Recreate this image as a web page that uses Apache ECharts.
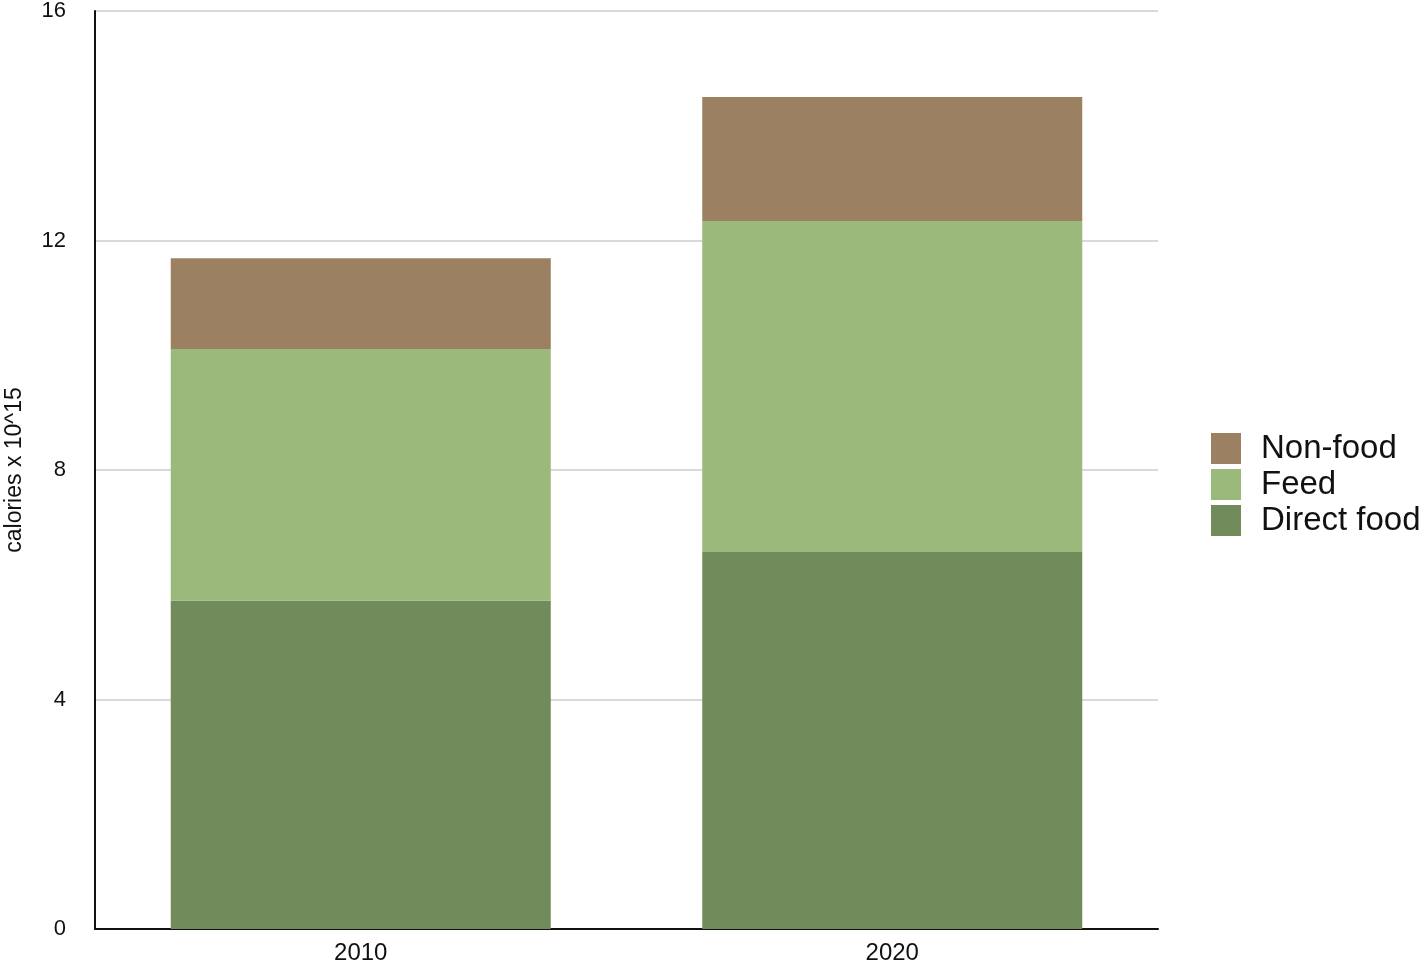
<!DOCTYPE html>
<html>
<head>
<meta charset="utf-8">
<script src="https://cdn.jsdelivr.net/npm/echarts@6/dist/echarts.min.js"></script>
<style>
html, body { margin: 0; padding: 0; background: #fff; }
#chart { width: 1425px; height: 969px; }
</style>
</head>
<body>
<div id="chart"></div>
<script>
var years = ['2010', '2020'];
var directFood = [5.72, 6.57];
var feed = [4.39, 5.77];
var nonFood = [1.58, 2.16];
var yTicks = [0, 4, 8, 12, 16];

var chart = echarts.init(document.getElementById('chart'));
chart.setOption({
  animation: false,
  textStyle: { fontFamily: 'Liberation Sans, Arial, sans-serif' },
  color: ['#718c5a', '#9cb97c', '#9c8062'],
  legend: {
    orient: 'vertical',
    left: 1211,
    top: 432,
    padding: 0,
    itemWidth: 30,
    itemHeight: 31,
    itemGap: 3,
    icon: 'rect',
    data: ['Non-food', 'Feed', 'Direct food'],
    textStyle: { fontSize: 33, lineHeight: 31, height: 31, color: '#111', padding: [0, 0, 0, 15] }
  },
  grid: { left: 95, right: 267, top: 11, bottom: 40, outerBoundsMode: 'none' },
  xAxis: {
    type: 'category',
    data: years,
    axisLine: { lineStyle: { color: '#111', width: 2 } },
    axisTick: { show: false },
    axisLabel: { fontSize: 24, color: '#111', margin: 12 }
  },
  yAxis: {
    type: 'value',
    min: yTicks[0],
    max: yTicks[yTicks.length - 1],
    interval: 4,
    name: 'calories x 10^15',
    nameLocation: 'middle',
    nameRotate: 90,
    nameGap: 69,
    nameTextStyle: { fontSize: 23, color: '#111' },
    axisLine: { show: true, lineStyle: { color: '#111', width: 2 } },
    axisTick: { show: false },
    axisLabel: { fontSize: 22, color: '#111', margin: 29 },
    splitLine: { lineStyle: { color: '#cccccc', width: 1.5 } }
  },
  series: [
    { name: 'Direct food', type: 'bar', stack: 'total', data: directFood, barWidth: '71.5%' },
    { name: 'Feed', type: 'bar', stack: 'total', data: feed },
    { name: 'Non-food', type: 'bar', stack: 'total', data: nonFood }
  ]
});
</script>
</body>
</html>
